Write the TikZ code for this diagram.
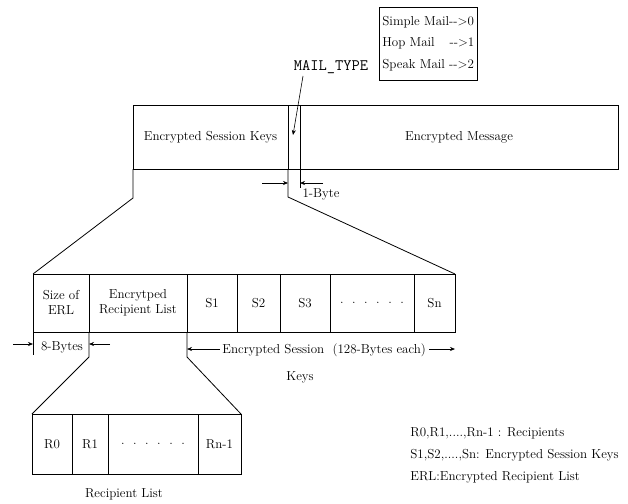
\documentclass[tikz,border=0pt]{standalone}
\usetikzlibrary{arrows.meta}
\begin{document}
\begin{tikzpicture}[x=1pt,y=-1pt, line width=0.8pt,
  every node/.style={font=\fontsize{13}{15}\selectfont},
  cell/.style={draw, inner sep=0pt, outer sep=0pt, align=center, anchor=north west},
  dim/.style={-{Stealth[length=5pt,width=4pt]}, line width=0.6pt},
  lbl/.style={inner sep=0pt}]
\useasboundingbox (0,0) rectangle (628,503);
% top record
\node[cell, minimum width=155pt, minimum height=64pt] (esk) at (133,105) {Encrypted Session Keys};
\node[cell, minimum width=12pt, minimum height=64pt] (mt) at (288,105) {};
\node[cell, minimum width=318pt, minimum height=64pt] (em) at (300,105) {Encrypted Message};
% legend box
\node[draw, anchor=north west, inner sep=0pt, minimum width=98pt, minimum height=73pt] (legbox) at (379,7) {};
\node[lbl, anchor=west] (l1) at (382,22) {Simple Mail-{}-{}>0};
\node[lbl, anchor=west] (l2) at (382,43) {Hop Mail\ \ \ \,-{}-{}>1};
\node[lbl, anchor=west] (l3) at (382,65) {Speak Mail -{}-{}>2};
% MAIL_TYPE
\node[lbl, font=\ttfamily\fontsize{16}{18}\selectfont] (mtl) at (331,67) {MAIL\_TYPE};
\coordinate (mts) at (303,76);
\coordinate (mtt) at (293,135);
\draw[dim] (mts) -- (mtt);
% middle record
\node[cell, minimum width=56pt, minimum height=58pt] (erlsize) at (33,274) {Size of\\ERL};
\node[cell, minimum width=98pt, minimum height=58pt] (erl) at (89,274) {Encrytped\\Recipient List};
\node[cell, minimum width=50pt, minimum height=58pt] (s1) at (187,274) {S1};
\node[cell, minimum width=43pt, minimum height=58pt] (s2) at (237,274) {S2};
\node[cell, minimum width=50pt, minimum height=58pt] (s3) at (280,274) {S3};
\node[cell, minimum width=84pt, minimum height=58pt] (sdots) at (330,274) {.\ \ .\ \ .\ \ .\ \ .\ \ .};
\node[cell, minimum width=41pt, minimum height=58pt] (sn) at (414,274) {Sn};
% lower record
\node[cell, minimum width=40pt, minimum height=60pt] (r0) at (32,414) {R0};
\node[cell, minimum width=36pt, minimum height=60pt] (r1) at (72,414) {R1};
\node[cell, minimum width=90pt, minimum height=60pt] (rdots) at (108,414) {.\ \ .\ \ .\ \ .\ \ .\ \ .};
\node[cell, minimum width=43pt, minimum height=60pt] (rn) at (198,414) {Rn-1};
\node[lbl] (rl) at (124,494) {Recipient List};
% expansion lines
\draw (esk.south west) -- ++(0,29) -- (erlsize.north west);
\draw (mt.south west) -- ++(0,28) -- (sn.north east);
\draw (mt.south east) -- ++(0,19);
\draw (erlsize.south west) -- ++(0,23);
\draw (erl.south west) -- ++(0,25) -- (r0.north west);
\draw (s1.south west) -- ++(0,25) -- (rn.north east);
% 1-Byte
\coordinate (b1) at (262,183);
\coordinate (b2) at (323,183);
\draw[dim] (b1) -- (b1 -| mt.west);
\draw[dim] (b2) -- (b2 -| mt.east);
\node[lbl] (byte) at (321,194) {1-Byte};
% 8-Bytes
\coordinate (e1) at (13,344);
\coordinate (e2) at (110,344);
\draw[dim] (e1) -- (e1 -| erlsize.west);
\draw[dim] (e2) -- (e2 -| erl.west);
\node[lbl] (eight) at (62,347) {8-Bytes};
% session keys dimension
\coordinate (k1) at (220,349);
\coordinate (k2) at (429,349);
\draw[dim] (k1) -- (k1 -| s1.west);
\draw[dim] (k2) -- (k2 -| sn.east);
\node[lbl, anchor=west] (ks) at (222,350) {Encrypted Session\ \ (128-Bytes each)};
\node[lbl] (keys) at (300,377) {Keys};
% bottom legend
\node[lbl, anchor=west] (g1) at (410,433) {R0,R1,....,Rn-1 : Recipients};
\node[lbl, anchor=west] (g2) at (410,455) {S1,S2,....,Sn: Encrypted Session Keys};
\node[lbl, anchor=west] (g3) at (410,477) {ERL:Encrypted Recipient List};
\end{tikzpicture}
\end{document}
